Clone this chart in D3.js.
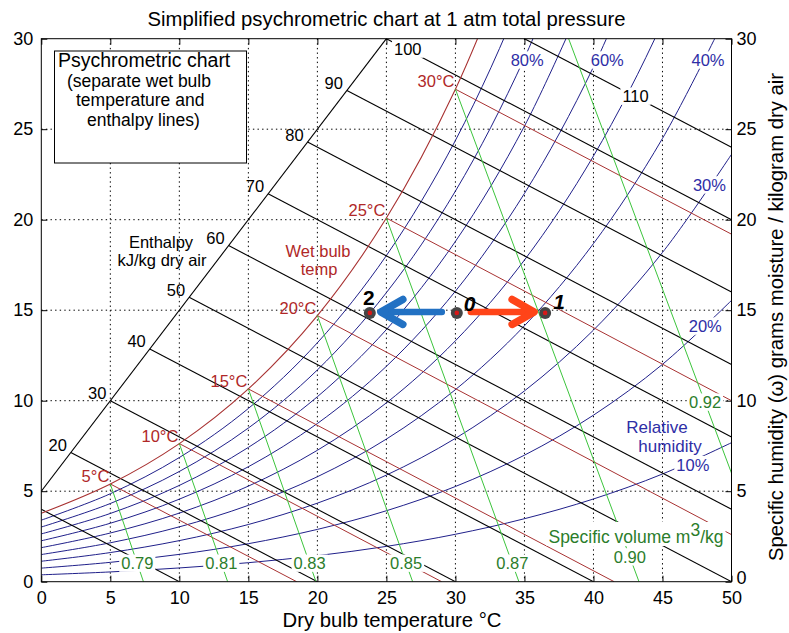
<!DOCTYPE html>
<html>
<head>
<meta charset="utf-8">
<script src="https://cdn.jsdelivr.net/npm/d3@7"></script>
<style>
  body { margin: 0; background: #fff; }
  svg text { font-family: "Liberation Sans", Arial, Helvetica, sans-serif; }
</style>
</head>
<body>
<svg width="789" height="633"></svg>
<script>
// dry bulb temperatures (deg C) at which the humidity curves were read
var dryBulb = [0, 5, 10, 15, 20, 25, 30, 35, 40, 45, 50];

// specific humidity (g/kg) along each relative humidity curve
var rh100 = [3.78, 5.40, 7.63, 10.65, 14.70, 20.09, 27.21, 36.59];
var rh90 = [3.40, 4.86, 6.86, 9.57, 13.20, 18.02, 24.38, 32.74, 43.66];
var rh80 = [3.02, 4.32, 6.09, 8.49, 11.70, 15.97, 21.58, 28.93, 38.51];
var rh70 = [2.64, 3.77, 5.32, 7.42, 10.22, 13.93, 18.80, 25.17, 33.44];
var rh60 = [2.26, 3.23, 4.56, 6.35, 8.74, 11.90, 16.05, 21.45, 28.44, 37.47];
var rh50 = [1.88, 2.69, 3.79, 5.28, 7.26, 9.88, 13.31, 17.77, 23.52, 30.91, 40.37];
var rh40 = [1.50, 2.15, 3.03, 4.22, 5.80, 7.88, 10.61, 14.14, 18.68, 24.49, 31.89];
var rh30 = [1.13, 1.61, 2.27, 3.16, 4.34, 5.89, 7.92, 10.54, 13.90, 18.19, 23.61];
var rh20 = [0.75, 1.07, 1.51, 2.10, 2.89, 3.92, 5.26, 6.99, 9.20, 12.01, 15.54];
var rh10 = [0.38, 0.54, 0.76, 1.05, 1.44, 1.95, 2.62, 3.48, 4.57, 5.95, 7.68];
var rhCurves = [rh10, rh20, rh30, rh40, rh50, rh60, rh70, rh80, rh90];

// labelled RH curves and where their labels sit (T, w)
var rhLabels = ["80%", "60%", "40%", "30%", "20%", "10%"];
var rhLabelT = [35.2, 41.0, 48.3, 48.4, 48.1, 47.2];
var rhLabelW = [28.8, 28.8, 28.8, 21.9, 14.1, 6.45];

// enthalpy lines kJ/kg: start / end points (T, w)
var enthalpy = [10, 20, 30, 40, 50, 60, 70, 80, 90, 100, 110];
var hStartT = [0, 2.14, 5.0, 7.86, 10.71, 13.57, 16.43, 19.29, 22.14, 25.0, 35.0];
var hStartW = [4.0, 7.14, 10.0, 12.86, 15.71, 18.57, 21.43, 24.29, 27.14, 30.0, 30.0];
var hEndT = [10, 20, 30, 40, 50, 50, 50, 50, 50, 50, 50];
var hEndW = [0, 0, 0, 0, 0, 4.0, 8.0, 12.0, 16.0, 20.0, 24.0];
// enthalpy scale line
var hScaleT = [0, 25];
var hScaleW = [5, 30];
// inline labels of the top two enthalpy lines
var hInlineT = [26.55, 43.05];
var hInlineW = [29.4, 26.8];

// wet bulb lines (start on saturation curve)
var wetBulb = [5, 10, 15, 20, 25, 30];
var wbEndT = [18.5, 29.0, 41.5, 50, 50, 50];
var wbEndW = [0, 0, 0, 2.6, 10.0, 19.2];

// specific volume lines m3/kg
var volumes = ["0.79", "0.81", "0.83", "0.85", "0.87", "0.90", "0.92"];
var vTopT = [5, 10, 15, 20, 25, 30, 38.2];
var vTopW = [5.40, 7.63, 10.65, 14.70, 20.09, 27.21, 30];
var vEndT = [7.4, 13.5, 19.9, 26.9, 34.6, 43.3, 50];
var vEndW = [0, 0, 0, 0, 0, 0, 6.0];
var vLabelW = [1.0, 1.0, 1.0, 1.0, 1.0, 1.35, 9.9];

// process states
var states = ["0", "1", "2"];
var stateT = [30.1, 36.5, 23.8];
var stateW = [14.85, 14.85, 14.85];

var xTicks = [0, 5, 10, 15, 20, 25, 30, 35, 40, 45, 50];
var yTicks = [0, 5, 10, 15, 20, 25, 30];

var svg = d3.select("svg");
var L = 41.3, R = 731.5, T = 38.7, B = 581.7;
var x = d3.scaleLinear().domain([0, 50]).range([L, R]);
var y = d3.scaleLinear().domain([0, 30]).range([B, T]);

var BLUE = "#20208a", BLUE_TXT = "#2e2ea6", RED = "#a83232", RED_TXT = "#b02828",
    GREEN = "#3cc43c", GREEN_TXT = "#2b7d2b";

svg.append("defs").append("clipPath").attr("id", "plot")
  .append("rect").attr("x", L).attr("y", T).attr("width", R - L).attr("height", B - T);

// grid
var grid = svg.append("g").attr("stroke", "#000").attr("stroke-width", 1)
  .attr("stroke-dasharray", "1.4,3.2");
grid.selectAll(".gx").data(xTicks.slice(1, -1)).enter().append("line")
  .attr("x1", function(d) { return x(d); }).attr("x2", function(d) { return x(d); })
  .attr("y1", T).attr("y2", B);
grid.selectAll(".gy").data(yTicks.slice(1, -1)).enter().append("line")
  .attr("y1", function(d) { return y(d); }).attr("y2", function(d) { return y(d); })
  .attr("x1", L).attr("x2", R);

// info box
svg.append("rect").attr("x", 54.5).attr("y", 51).attr("width", 192).attr("height", 112)
  .attr("fill", "#fff").attr("stroke", "#000");
[["Psychrometric chart", 58, 67, 19.5], ["(separate wet bulb", 67, 86.5, 17.5],
 ["temperature and", 76, 106, 17.5], ["enthalpy lines)", 87, 125.5, 17.5]].forEach(function(b) {
  svg.append("text").attr("x", b[1]).attr("y", b[2]).style("font-size", b[3] + "px").text(b[0]);
});

var plot = svg.append("g").attr("clip-path", "url(#plot)").attr("fill", "none");

var curve = d3.line()
  .x(function(d) { return x(d[0]); })
  .y(function(d) { return y(d[1]); })
  .curve(d3.curveCatmullRom.alpha(0.5));

function pts(arr) { return arr.map(function(w, i) { return [dryBulb[i], w]; }); }

// relative humidity
rhCurves.forEach(function(c) {
  plot.append("path").attr("d", curve(pts(c))).attr("stroke", BLUE).attr("stroke-width", 1);
});

// enthalpy
enthalpy.forEach(function(h, i) {
  plot.append("line").attr("x1", x(hStartT[i])).attr("y1", y(hStartW[i]))
    .attr("x2", x(hEndT[i])).attr("y2", y(hEndW[i])).attr("stroke", "#000").attr("stroke-width", 1.1);
});
plot.append("line").attr("x1", x(hScaleT[0])).attr("y1", y(hScaleW[0]))
  .attr("x2", x(hScaleT[1])).attr("y2", y(hScaleW[1])).attr("stroke", "#000").attr("stroke-width", 1.1);

// saturation + wet bulb
plot.append("path").attr("d", curve(pts(rh100))).attr("stroke", RED).attr("stroke-width", 1.1);
wetBulb.forEach(function(t, i) {
  var w0 = rh100[dryBulb.indexOf(t)];
  plot.append("line").attr("x1", x(t)).attr("y1", y(w0))
    .attr("x2", x(wbEndT[i])).attr("y2", y(wbEndW[i])).attr("stroke", RED).attr("stroke-width", 1);
});

// specific volume
volumes.forEach(function(v, i) {
  plot.append("line").attr("x1", x(vTopT[i])).attr("y1", y(vTopW[i]))
    .attr("x2", x(vEndT[i])).attr("y2", y(vEndW[i])).attr("stroke", GREEN).attr("stroke-width", 1);
});

// labels
var labels = svg.append("g");

function inlineLabel(px, py, str, color, size) {
  var g = labels.append("g");
  var t = g.append("text").attr("x", px).attr("y", py).attr("dy", "0.35em")
    .attr("text-anchor", "middle").attr("fill", color).style("font-size", size + "px").text(str);
  var b = t.node().getBBox();
  g.insert("rect", "text").attr("x", b.x - 2).attr("y", py - size * 0.55)
    .attr("width", b.width + 4).attr("height", size * 1.05).attr("fill", "#fff");
}

enthalpy.forEach(function(h, i) {
  if (h < 20 || h > 90) return;
  labels.append("text").attr("x", x(hStartT[i]) - 4).attr("y", y(hStartW[i]) - 1.5)
    .attr("text-anchor", "end").style("font-size", "16.5px").text(h);
});
inlineLabel(x(hInlineT[0]), y(hInlineW[0]), "100", "#000", 16.5);
inlineLabel(x(hInlineT[1]), y(hInlineW[1]), "110", "#000", 16.5);

wetBulb.forEach(function(t, i) {
  var w0 = rh100[dryBulb.indexOf(t)];
  labels.append("text").attr("x", x(t) - 1).attr("y", y(w0) - 2)
    .attr("text-anchor", "end").attr("fill", RED_TXT).style("font-size", "16.5px").text(t + "°C");
});

volumes.forEach(function(v, i) {
  var f = (vLabelW[i] - vTopW[i]) / (vEndW[i] - vTopW[i]);
  var t = vTopT[i] + f * (vEndT[i] - vTopT[i]);
  inlineLabel(x(t), y(vLabelW[i]), v, GREEN_TXT, 16.5);
});

rhLabels.forEach(function(s, i) {
  inlineLabel(x(rhLabelT[i]), y(rhLabelW[i]), s, BLUE_TXT, 16.5);
});

// two-line free texts
function freeText(px, py, lines, color, size, gap) {
  lines.forEach(function(l, k) {
    labels.append("text").attr("x", px + (l[1] || 0)).attr("y", py + k * gap)
      .attr("text-anchor", "middle").attr("fill", color).style("font-size", size + "px").text(l[0]);
  });
}
freeText(161, 247.5, [["Enthalpy"], ["kJ/kg dry air", 1]], "#000", 16.5, 18.6);
freeText(318, 256.5, [["Wet bulb"], ["temp", 1]], RED_TXT, 16.5, 18.6);
freeText(657, 432.5, [["Relative"], ["humidity", 13]], BLUE_TXT, 17, 19.3);

var sv = labels.append("g");
var svText = sv.append("text").attr("x", 636).attr("y", 543).attr("text-anchor", "middle")
  .attr("fill", GREEN_TXT).style("font-size", "17.5px");
svText.append("tspan").text("Specific volume m");
svText.append("tspan").attr("dy", "-0.4em").text("3");
svText.append("tspan").attr("dy", "0.4em").text("/kg");
var sb = svText.node().getBBox();
sv.insert("rect", "text").attr("x", sb.x - 2).attr("y", sb.y + 2)
  .attr("width", sb.width + 4).attr("height", sb.height - 3).attr("fill", "#fff");

// axes box and ticks
var axes = svg.append("g");
axes.append("rect").attr("x", L).attr("y", T).attr("width", R - L).attr("height", B - T)
  .attr("fill", "none").attr("stroke", "#000");

function styleAxis(g) {
  g.select(".domain").remove();
  g.selectAll("text").style("font-size", "18px").attr("fill", "#000")
    .style("font-family", "'Liberation Sans', Arial, sans-serif");
  g.selectAll("line").attr("stroke", "#000");
}
axes.append("g").attr("transform", "translate(0," + B + ")")
  .call(d3.axisBottom(x).tickValues(xTicks).tickSizeInner(-6).tickSizeOuter(0).tickPadding(9.5))
  .call(styleAxis);
axes.append("g").attr("transform", "translate(0," + T + ")")
  .call(d3.axisTop(x).tickValues(xTicks).tickSizeInner(-6).tickSizeOuter(0).tickFormat(""))
  .call(styleAxis);
axes.append("g").attr("transform", "translate(" + L + ",0)")
  .call(d3.axisLeft(y).tickValues(yTicks).tickSizeInner(-6).tickSizeOuter(0).tickPadding(8))
  .call(styleAxis);
var rightAxis = axes.append("g").attr("transform", "translate(" + R + ",0)")
  .call(d3.axisRight(y).tickValues(yTicks).tickSizeInner(-6).tickSizeOuter(0).tickPadding(5))
  .call(styleAxis);
// lift the right-hand "0" a little so it clears the bottom "50"
rightAxis.selectAll(".tick text").filter(function(d) { return d === 0; }).attr("y", -3.5);

// titles
svg.append("text").attr("x", 386.5).attr("y", 26).attr("text-anchor", "middle")
  .style("font-size", "20.3px").text("Simplified psychrometric chart at 1 atm total pressure");
svg.append("text").attr("x", 392).attr("y", 627).attr("text-anchor", "middle")
  .style("font-size", "20.3px").text("Dry bulb temperature °C");
svg.append("text").attr("transform", "translate(783,317) rotate(-90)").attr("text-anchor", "middle")
  .style("font-size", "20.3px").text("Specific humidity (ω) grams moisture / kilogram dry air");

// process arrows
var ann = svg.append("g");
var p0 = [x(stateT[0]), y(stateW[0])], p1 = [x(stateT[1]), y(stateW[1])], p2 = [x(stateT[2]), y(stateW[2])];
function arrow(xs, xt, yy, dir, color) {
  ann.append("line").attr("x1", xs).attr("y1", yy).attr("x2", xt - dir * 3).attr("y2", yy)
    .attr("stroke", color).attr("stroke-width", 6.5).attr("stroke-linecap", "round");
  ann.append("polyline")
    .attr("points", [[xt - dir * 22, yy - 12.5], [xt, yy], [xt - dir * 22, yy + 12.5]].join(" "))
    .attr("fill", "none").attr("stroke", color).attr("stroke-width", 7.5)
    .attr("stroke-linecap", "round").attr("stroke-linejoin", "round");
}
arrow(p0[0] - 15, p2[0] + 11, p0[1] - 1, -1, "#2271c3");
arrow(p0[0] + 14, p1[0] - 11, p0[1] - 1, 1, "#ff4418");

[p0, p1, p2].forEach(function(p) {
  ann.append("circle").attr("cx", p[0]).attr("cy", p[1]).attr("r", 6).attr("fill", "#454545");
  ann.append("circle").attr("cx", p[0]).attr("cy", p[1]).attr("r", 2.3).attr("fill", "#d81818");
});
ann.append("text").attr("x", p2[0] - 1).attr("y", p2[1] - 8).attr("text-anchor", "middle")
  .style("font-size", "21px").style("font-weight", "bold").text(states[2]);
ann.append("text").attr("x", p0[0] + 7).attr("y", p0[1] - 2)
  .style("font-size", "21px").style("font-weight", "bold").style("font-style", "italic").text(states[0]);
ann.append("text").attr("x", p1[0] + 8).attr("y", p1[1] - 4)
  .style("font-size", "21px").style("font-weight", "bold").style("font-style", "italic").text(states[1]);
</script>
</body>
</html>
